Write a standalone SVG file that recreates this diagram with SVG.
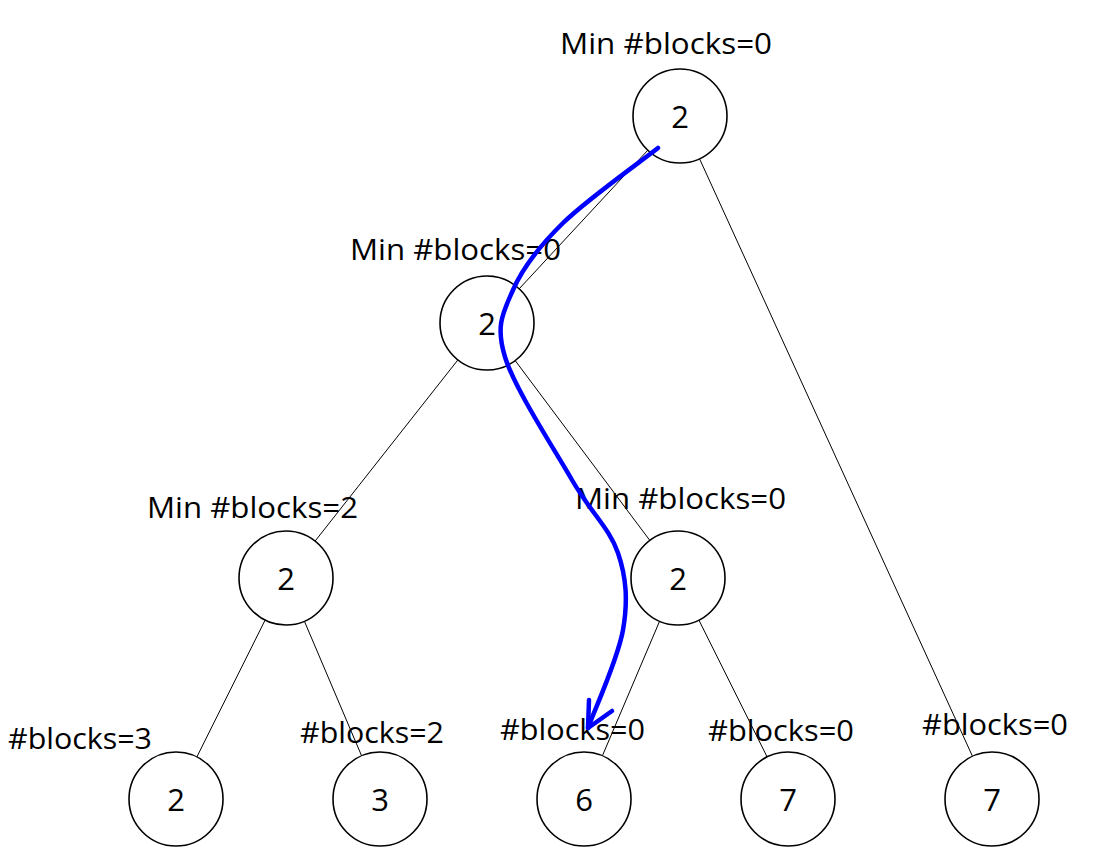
<svg xmlns="http://www.w3.org/2000/svg" width="1097" height="867" viewBox="0 0 1097 867">
<style>
.n{fill:#fff;stroke:#000;stroke-width:1.6}
.e{stroke:#000;stroke-width:1;fill:none}
.t{font-family:"Open Sans","Liberation Sans",sans-serif;font-size:29.5px;fill:#000}
.v{font-family:"Open Sans","Liberation Sans",sans-serif;font-size:31px;fill:#000;text-anchor:middle}
.b{stroke:#0000ff;stroke-width:4.5;fill:none;stroke-linecap:round;stroke-linejoin:round}
</style>
<rect width="1097" height="867" fill="#fff"/>
<g id="connectors">
<line class="e" x1="648" y1="150" x2="519" y2="289"/>
<line class="e" x1="699.5" y1="158.7" x2="972.5" y2="756.3"/>
<line class="e" x1="457.9" y1="359.9" x2="315.1" y2="541.1"/>
<line class="e" x1="515.2" y1="360.6" x2="649.8" y2="540.4"/>
<line class="e" x1="265.1" y1="620.1" x2="196.9" y2="756.9"/>
<line class="e" x1="304.4" y1="621.2" x2="361.6" y2="755.8"/>
<line class="e" x1="659.6" y1="621.2" x2="602.4" y2="755.8"/>
<line class="e" x1="698.9" y1="620.1" x2="767.1" y2="756.9"/>
</g>
<g id="root"><circle class="n" cx="680" cy="116" r="47"/><text class="v" x="680" y="128">2</text><text class="t" x="560" y="54" textLength="212" lengthAdjust="spacingAndGlyphs">Min #blocks=0</text></g>
<g id="n_l2"><circle class="n" cx="487" cy="323" r="47"/><text class="v" x="487" y="335">2</text><text class="t" x="350" y="260" textLength="211" lengthAdjust="spacingAndGlyphs">Min #blocks=0</text></g>
<g id="n_l3a"><circle class="n" cx="286" cy="578" r="47"/><text class="v" x="286" y="590">2</text><text class="t" x="147" y="518" textLength="211" lengthAdjust="spacingAndGlyphs">Min #blocks=2</text></g>
<g id="n_l3b"><circle class="n" cx="678" cy="578" r="47"/><text class="v" x="678" y="590">2</text><text class="t" x="575" y="509" textLength="211" lengthAdjust="spacingAndGlyphs">Min #blocks=0</text></g>
<g id="leaf1"><circle class="n" cx="176" cy="799" r="47"/><text class="v" x="176" y="811">2</text><text class="t" x="8" y="749" textLength="144" lengthAdjust="spacingAndGlyphs">#blocks=3</text></g>
<g id="leaf2"><circle class="n" cx="380" cy="799" r="47"/><text class="v" x="380" y="811">3</text><text class="t" x="300" y="743" textLength="144" lengthAdjust="spacingAndGlyphs">#blocks=2</text></g>
<g id="leaf3"><circle class="n" cx="584" cy="799" r="47"/><text class="v" x="584" y="811">6</text><text class="t" x="500" y="740" textLength="145" lengthAdjust="spacingAndGlyphs">#blocks=0</text></g>
<g id="leaf4"><circle class="n" cx="788" cy="799" r="47"/><text class="v" x="788" y="811">7</text><text class="t" x="708" y="741" textLength="146" lengthAdjust="spacingAndGlyphs">#blocks=0</text></g>
<g id="leaf5"><circle class="n" cx="992" cy="799" r="47"/><text class="v" x="992" y="811">7</text><text class="t" x="922" y="735" textLength="146" lengthAdjust="spacingAndGlyphs">#blocks=0</text></g>
<g id="path-arrow">
<path class="b" d="M658,148 C642.2,160.5 587.2,199.3 563,223 C538.8,246.7 522.7,267.7 513,290 C503.3,312.3 495.2,325.3 505,357 C514.8,388.7 553.2,447.3 572,480 C590.8,512.7 609.5,528 618,553 C626.5,578 628,600.8 623,630 C618,659.2 593.8,711.7 588,728"/>
<polyline class="b" points="589,700 588,728 612,711"/>
</g>
</svg>
